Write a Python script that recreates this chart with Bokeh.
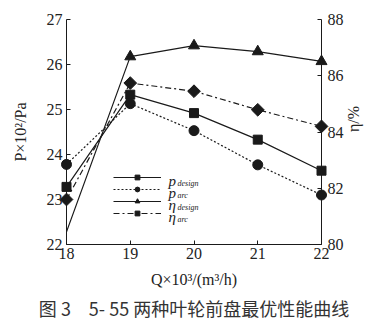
import math
from bokeh.plotting import figure
from bokeh.models import (Range1d, LinearAxis, FixedTicker, Legend, LegendItem,
                          Label, Title)
from bokeh.embed import file_html
from bokeh.resources import INLINE

# ---- data ----
Q = [18, 19, 20, 21, 22]
p_design = [23.28, 25.33, 24.92, 24.33, 23.64]
p_arc = [23.78, 25.13, 24.53, 23.77, 23.10]
eta_design = [80.45, 86.68, 87.07, 86.86, 86.51]
eta_arc = [81.60, 85.74, 85.45, 84.79, 84.20]

x_ticks = [18, 19, 20, 21, 22]
p_ticks = [22, 23, 24, 25, 26, 27]
eta_ticks = [80, 82, 84, 86, 88]

legend_main = ["p", "p", "η", "η"]
legend_sub = ["design", "arc", "design", "arc"]

x_title = "Q×10³/(m³/h)"
p_title = "P×10²/Pa"
eta_title = "η/%"
caption = "图 3\u30005- 55 两种叶轮前盘最优性能曲线"

# ---- styling ----
SERIF = "Liberation Serif"
INK = "#1a1a1a"
TXT = "#222222"

p = figure(width=374, height=329,
           x_range=Range1d(18, 22), y_range=Range1d(22, 27),
           output_backend="svg", toolbar_location=None,
           min_border_left=66, min_border_right=53,
           min_border_top=19, min_border_bottom=85)
p.extra_y_ranges = {"eta": Range1d(80, 88)}
p.outline_line_color = None
p.xgrid.visible = False
p.ygrid.visible = False
p.background_fill_color = "white"
p.border_fill_color = "white"


def style_axis(ax, ticks, standoff, label, label_standoff):
    ax.ticker = FixedTicker(ticks=ticks)
    ax.major_tick_in = 4
    ax.major_tick_out = 0
    ax.minor_tick_line_color = None
    ax.axis_line_color = INK
    ax.axis_line_width = 1
    ax.major_tick_line_color = INK
    ax.major_label_text_font = SERIF
    ax.major_label_text_font_size = "16px"
    ax.major_label_text_color = TXT
    ax.major_label_standoff = standoff
    ax.axis_label = label
    ax.axis_label_text_font = SERIF
    ax.axis_label_text_font_size = "16px"
    ax.axis_label_text_font_style = "normal"
    ax.axis_label_text_color = TXT
    ax.axis_label_standoff = label_standoff


style_axis(p.xaxis[0], x_ticks, 3, x_title, 9)
style_axis(p.yaxis[0], p_ticks, 4, p_title, 15)
right = LinearAxis(y_range_name="eta")
style_axis(right, eta_ticks, 6, eta_title, 7)
if hasattr(right, "axis_label_orientation"):
    right.axis_label_orientation = math.pi / 2
p.add_layout(right, "right")

p.add_layout(Title(text=caption, align="center", text_font="Noto Sans CJK SC",
                   text_font_size="18px", text_font_style="normal",
                   text_color="#333333", standoff=5), "below")

# ---- series ----
lw = 1.2
r1l = p.line(Q, p_design, line_color=INK, line_width=lw)
r1m = p.scatter(Q, p_design, marker="square", size=9, color=INK)
r2l = p.line(Q, p_arc, line_color=INK, line_width=lw, line_dash="2 2")
r2m = p.scatter(Q, p_arc, marker="circle", size=10, color=INK)
r3l = p.line(Q, eta_design, line_color=INK, line_width=lw, y_range_name="eta")
r3m = p.scatter(Q[1:], eta_design[1:], marker="triangle", size=11, color=INK,
                y_range_name="eta")
r4l = p.line(Q, eta_arc, line_color=INK, line_width=lw, line_dash="6 3 2 3",
             y_range_name="eta")
r4m = p.scatter(Q, eta_arc, marker="square", angle=math.pi / 4, size=9,
                color=INK, y_range_name="eta")
for r in (r1m, r2m, r3m, r4m):
    r.level = "overlay"

# ---- legend ----
items = [LegendItem(label=" ", renderers=[r1l, r1m]),
         LegendItem(label=" ", renderers=[r2l, r2m]),
         LegendItem(label=" ", renderers=[r3l, r3m]),
         LegendItem(label=" ", renderers=[r4l, r4m])]
legend = Legend(items=items, location=(47, 25), orientation="vertical",
                glyph_width=48, glyph_height=12, label_height=12, label_width=1,
                spacing=0, padding=0, margin=0, label_standoff=7,
                label_text_font_size="6px", border_line_color=None,
                background_fill_alpha=0)
p.add_layout(legend)


def lab(x, y, text, size):
    p.add_layout(Label(x=x, y=y, x_units="screen", y_units="screen", text=text,
                       text_font=SERIF, text_font_size=size,
                       text_font_style="italic", text_color=TXT,
                       text_align="left", text_baseline="alphabetic",
                       level="overlay"))


row_top = 67
for i, (m, s) in enumerate(zip(legend_main, legend_sub)):
    yc = row_top - 12 * i
    lab(102, yc - 3.5, m, "15px")
    lab(111, yc - 6, s, "8px")

open("out.html", "w").write(file_html(p, INLINE))
